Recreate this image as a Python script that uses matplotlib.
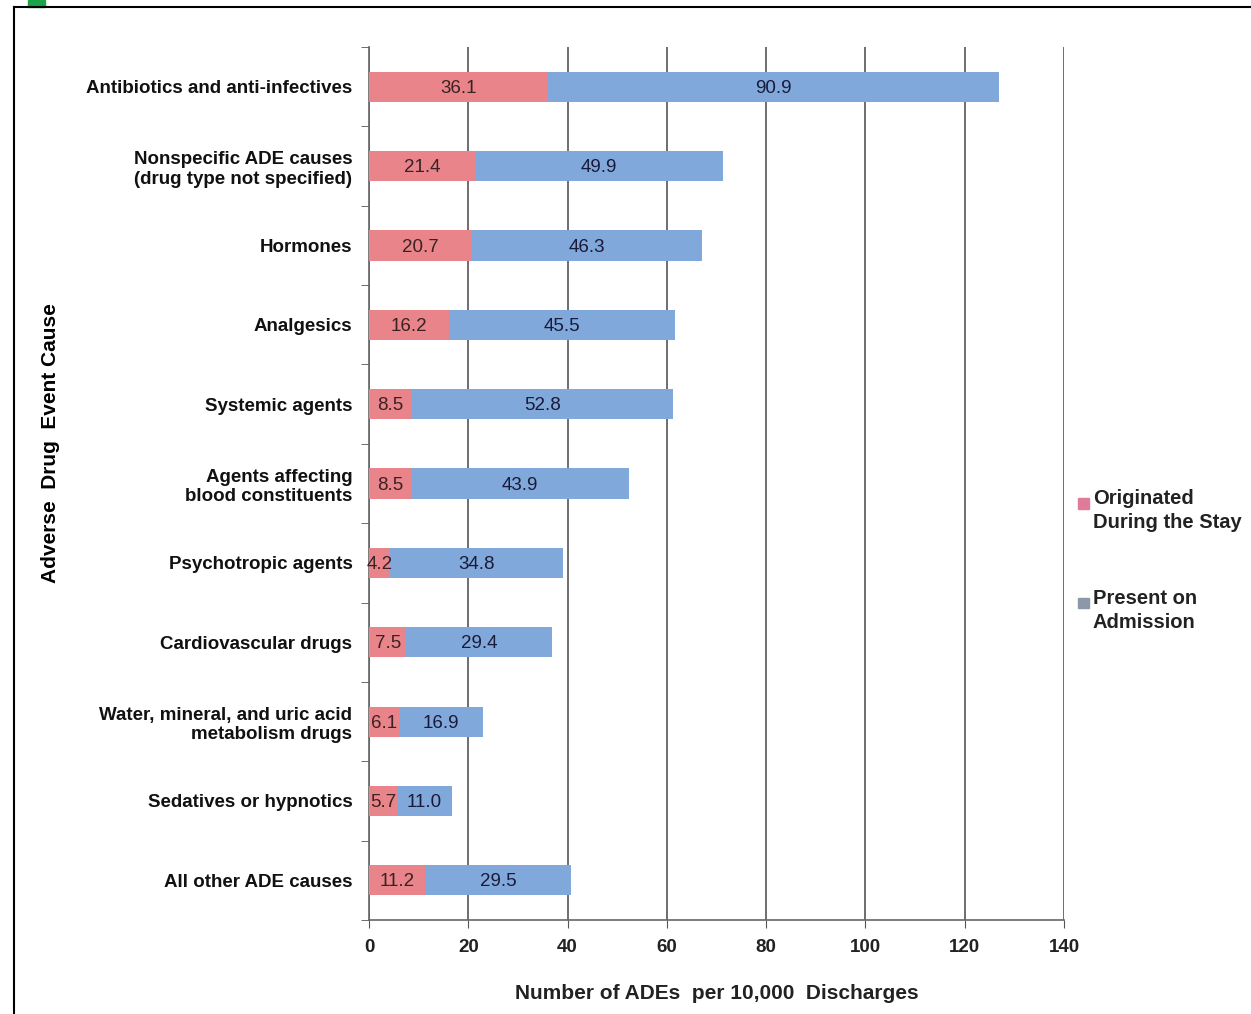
import matplotlib
matplotlib.use("Agg")
import matplotlib.pyplot as plt
from matplotlib.patches import Rectangle

plt.rcParams['font.family'] = ['Liberation Sans', 'DejaVu Sans']

# ADE causes, top to bottom
causes = [
    "Antibiotics and anti-infectives",
    "Nonspecific ADE causes\n(drug type not specified)",
    "Hormones",
    "Analgesics",
    "Systemic agents",
    "Agents affecting\nblood constituents",
    "Psychotropic agents",
    "Cardiovascular drugs",
    "Water, mineral, and uric acid\nmetabolism drugs",
    "Sedatives or hypnotics",
    "All other ADE causes",
]
originated = [36.1, 21.4, 20.7, 16.2, 8.5, 8.5, 4.2, 7.5, 6.1, 5.7, 11.2]
present = [90.9, 49.9, 46.3, 45.5, 52.8, 43.9, 34.8, 29.4, 16.9, 11.0, 29.5]
x_ticks = [0, 20, 40, 60, 80, 100, 120, 140]
legend_labels = ["Originated\nDuring the Stay", "Present on\nAdmission"]
legend_colors = ['#E07C99', '#8C97A8']

pink = '#E8848A'
blue = '#80A8DA'

fig = plt.figure(figsize=(12.51, 10.14), dpi=100)
ax = fig.add_axes([0.295, 0.0927, 0.5555, 0.8609])

y = list(range(len(causes)))
ax.barh(y, originated, height=0.38, color=pink, zorder=3)
ax.barh(y, present, left=originated, height=0.38, color=blue, zorder=3)

for i in y:
    ax.text(originated[i] / 2, i + 0.02, f"{originated[i]:.1f}", ha='center',
            va='center', fontsize=13.5, color='#3a2222', zorder=4)
    ax.text(originated[i] + present[i] / 2, i + 0.02, f"{present[i]:.1f}",
            ha='center', va='center', fontsize=13.5, color='#1a1a3a', zorder=4)

ax.set_ylim(len(causes) - 0.5, -0.5)
ax.set_xlim(0, 140)
ax.set_xticks(x_ticks)
ax.set_xticklabels([str(t) for t in x_ticks], fontsize=13.5, fontweight='bold',
                   color='#222222')
ax.set_yticks(y)
ax.set_yticklabels(causes, fontsize=13.5, fontweight='bold', color='#111111')
ax.tick_params(axis='y', length=0, pad=12)
ax.set_yticks([i - 0.5 for i in range(len(causes) + 1)], minor=True)
ax.tick_params(axis='y', which='minor', length=6, color='#555555')
ax.tick_params(axis='x', length=6, color='#555555', pad=8)
ax.grid(axis='x', color='#555555', linewidth=1.2, zorder=0)

for s in ['top', 'right']:
    ax.spines[s].set_visible(False)
ax.spines['left'].set_color('#666666')
ax.spines['bottom'].set_color('#666666')
ax.spines['left'].set_linewidth(1.2)
ax.spines['bottom'].set_linewidth(1.2)

ax.set_xlabel("Number of ADEs  per 10,000  Discharges", fontsize=15,
              fontweight='bold', color='#222222', labelpad=20)
fig.text(0.040, 0.563, "Adverse  Drug  Event Cause", rotation=90, fontsize=15,
         fontweight='bold', ha='center', va='center')

# legend: square beside the first line of each label
for k, (lab, col) in enumerate(zip(legend_labels, legend_colors)):
    top = 0.5105 - k * 0.0985
    fig.add_artist(Rectangle((0.862, top - 0.012), 0.0085, 0.0105, color=col,
                             transform=fig.transFigure))
    fig.text(0.8735, top + 0.007, lab, fontsize=14.5, fontweight='bold',
             ha='left', va='top', linespacing=1.3, color='#222222')

# page frame and tab marker
fig.add_artist(plt.Line2D([0.0115, 1.0], [0.9935, 0.9935], color='black', lw=1.5,
                          transform=fig.transFigure))
fig.add_artist(plt.Line2D([0.0115, 0.0115], [0.0, 0.9935], color='black', lw=1.5,
                          transform=fig.transFigure))
fig.add_artist(Rectangle((0.0225, 0.9935), 0.0135, 0.0065, color='#1BA34A',
                         transform=fig.transFigure))

fig.savefig("out.png", dpi=100)
